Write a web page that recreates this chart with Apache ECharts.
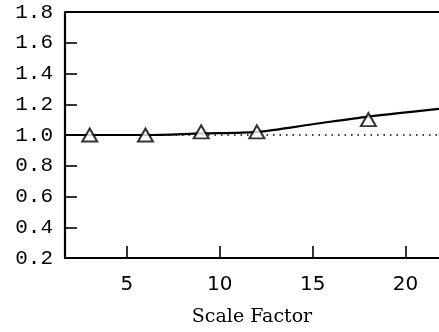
<!DOCTYPE html>
<html>
<head>
<meta charset="utf-8">
<script src="https://cdn.jsdelivr.net/npm/echarts@6/dist/echarts.min.js"></script>
<style>
  html, body { margin: 0; padding: 0; background: #fff; }
  #chart { width: 439px; height: 332px; }
</style>
</head>
<body>
<div id="chart"></div>
<script>
  // x range (axis runs past the right edge)
  var xMin = 1.67
  var xMax = 21.8
  var xTicks = [5, 10, 15, 20]
  var yTicks = [0.2, 0.4, 0.6, 0.8, 1.0, 1.2, 1.4, 1.6]

  // measured points (triangles)
  var markX = [3, 6, 9, 12, 18]
  var markY = [1.0, 1.0, 1.02, 1.02, 1.10]

  // solid curve
  var curveX = [1.67, 3, 6, 9, 12, 15, 18, 21.8]
  var curveY = [1.0, 1.0, 1.0, 1.01, 1.02, 1.07, 1.12, 1.17]

  // dotted reference at 1.0, frame line at top
  var refX = [1.67, 21.8]
  var refY = [1.0, 1.0]
  var topY = [1.8, 1.8]

  function pairs(xs, ys) {
    let out = []
    for (let i = 0; i < xs.length; i++) {
      out.push([xs[i], ys[i]])
    }
    return out
  }

  var chart = echarts.init(document.getElementById('chart'))
  chart.setOption({
    animation: false,
    grid: {left: 65, right: 0, top: 12, bottom: 72},
    xAxis: {
      type: 'value',
      min: xMin,
      max: xMax,
      name: 'Scale Factor',
      nameLocation: 'middle',
      nameGap: 50,
      nameTextStyle: {
        fontFamily: 'DejaVu Serif',
        fontSize: 19,
        color: '#000'
      },
      axisLine: {lineStyle: {color: '#000', width: 2.2}},
      axisTick: {inside: true, length: 12, customValues: xTicks, lineStyle: {color: '#000', width: 1.6}},
      axisLabel: {
        customValues: xTicks,
        margin: 17,
        fontFamily: 'DejaVu Sans',
        fontSize: 20,
        color: '#000'
      },
      splitLine: {show: false}
    },
    yAxis: {
      type: 'value',
      min: 0.2,
      max: 1.8,
      interval: 0.2,
      axisLine: {lineStyle: {color: '#000', width: 2.2}},
      axisTick: {inside: true, length: 12, customValues: yTicks, lineStyle: {color: '#000', width: 1.6}},
      axisLabel: {
        margin: 12,
        fontFamily: 'Liberation Mono',
        fontSize: 21,
        color: '#000',
        formatter: function (v) { return v.toFixed(1) }
      },
      splitLine: {show: false}
    },
    series: [
      {
        name: 'top',
        type: 'line',
        data: pairs(refX, topY),
        symbol: 'none',
        lineStyle: {color: '#000', width: 2.2},
        silent: true
      },
      {
        name: 'ref',
        type: 'line',
        data: pairs(refX, refY),
        symbol: 'none',
        lineStyle: {color: '#000', width: 1.4, type: [1.5, 5]},
        silent: true
      },
      {
        name: 'curve',
        type: 'line',
        data: pairs(curveX, curveY),
        symbol: 'none',
        smooth: 0.3,
        lineStyle: {color: '#000', width: 2.2}
      },
      {
        name: 'points',
        type: 'scatter',
        data: pairs(markX, markY),
        symbol: 'triangle',
        symbolSize: [15, 13],
        itemStyle: {color: '#fff', borderColor: '#000', borderWidth: 2},
        z: 5
      }
    ]
  })
</script>
</body>
</html>
